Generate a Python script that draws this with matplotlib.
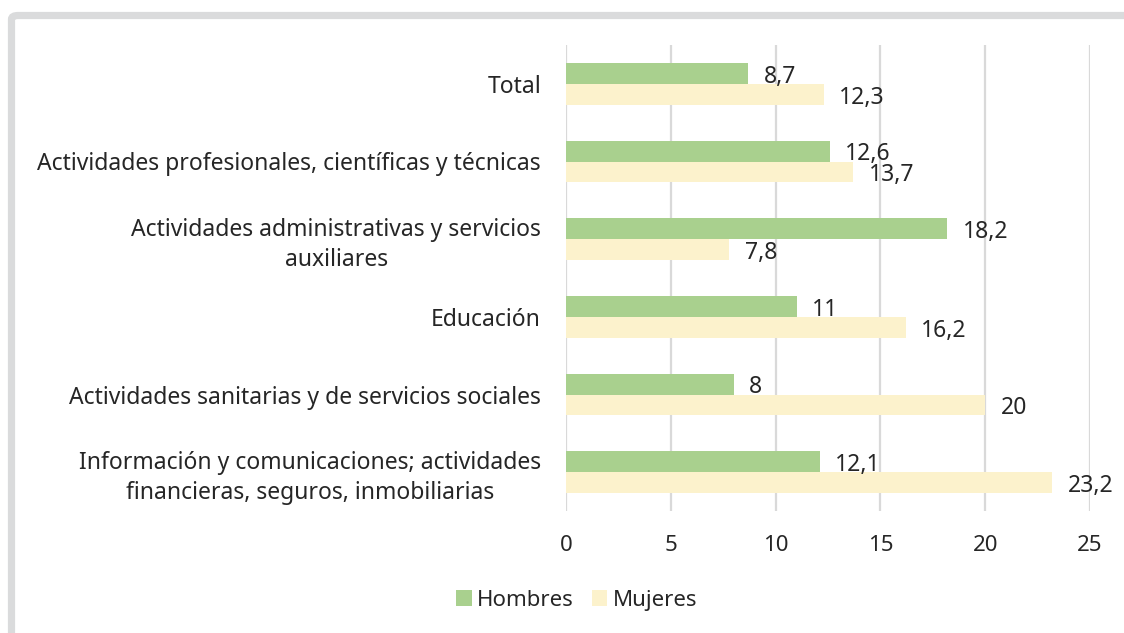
import numpy as np
import matplotlib
matplotlib.use("Agg")
import matplotlib.pyplot as plt
from matplotlib.patches import FancyBboxPatch, Patch

categorias = [
    "Total",
    "Actividades profesionales, científicas y técnicas",
    "Actividades administrativas y servicios\nauxiliares",
    "Educación",
    "Actividades sanitarias y de servicios sociales",
    "Información y comunicaciones; actividades\nfinancieras, seguros, inmobiliarias",
]
hombres = [8.7, 12.6, 18.2, 11, 8, 12.1]
mujeres = [12.3, 13.7, 7.8, 16.2, 20, 23.2]
ticks_x = [0, 5, 10, 15, 20, 25]

VERDE = "#a9d08e"
AMARILLO = "#fcf2cc"
TEXTO = "#262626"

plt.rcParams["font.family"] = ["Noto Sans", "DejaVu Sans"]

fig = plt.figure(figsize=(11.24, 6.33), dpi=100)

# marco gris del recuadro
marco = FancyBboxPatch((11.5 / 1124, -0.2), 1.3, 1 - 15.5 / 633 + 0.2,
                       boxstyle="round,pad=0,rounding_size=0.006",
                       transform=fig.transFigure, fill=False,
                       edgecolor="#dadbdc", linewidth=5.2, clip_on=False)
fig.patches.append(marco)

ax = fig.add_axes([566 / 1124, 1 - 511 / 633, (1090 - 566) / 1124, (511 - 45) / 633])

y = np.arange(len(categorias))
h = 0.27
ax.barh(y - h / 2, hombres, height=h, color=VERDE, label="Hombres", zorder=3)
ax.barh(y + h / 2, mujeres, height=h, color=AMARILLO, label="Mujeres", zorder=3)

def fmt(v):
    return f"{v:g}".replace(".", ",")

for serie, desp in ((hombres, -h / 2), (mujeres, h / 2)):
    for yi, v in zip(y, serie):
        ax.annotate(fmt(v), xy=(v, yi + desp), xytext=(11, -2.5), textcoords="offset points",
                    va="center", ha="left", fontsize=16.5, color=TEXTO)

ax.set_xlim(0, 25)
ax.set_ylim(len(categorias) - 0.5, -0.5)
ax.set_xticks(ticks_x)
ax.set_xticklabels([str(t) for t in ticks_x], fontsize=16, color=TEXTO)
ax.set_yticks(y)
ax.set_yticklabels(categorias, fontsize=16.5, color=TEXTO, multialignment="center",
                   linespacing=1.3)
ax.tick_params(axis="y", length=0, pad=18)
ax.tick_params(axis="x", length=0, pad=17)
ax.xaxis.grid(True, color="#d9d9d9", linewidth=1.6, zorder=0)
for s in ax.spines.values():
    s.set_visible(False)

handles = [Patch(facecolor=VERDE, label="Hombres"), Patch(facecolor=AMARILLO, label="Mujeres")]
fig.legend(handles=handles, loc="center", bbox_to_anchor=(0.513, 0.052), ncol=2,
           frameon=False, fontsize=16, handlelength=0.7, handleheight=0.7,
           handletextpad=0.25, columnspacing=0.8, labelcolor=TEXTO)

fig.savefig("out.png", dpi=100)
